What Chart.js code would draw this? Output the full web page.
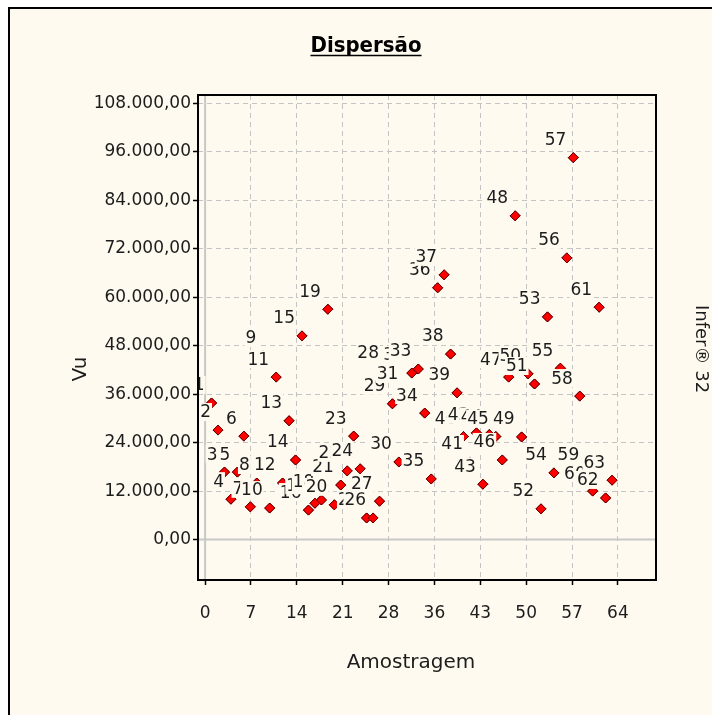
<!DOCTYPE html>
<html>
<head>
<meta charset="utf-8">
<script src="https://cdn.jsdelivr.net/npm/chart.js@4"></script>
<style>
  html, body { margin: 0; padding: 0; background: #fff; }
  canvas { display: block; }
</style>
</head>
<body>
<canvas id="chart" width="712" height="715"></canvas>
<script>
// amostras (x) e valores Vu (y)
const samples = [1, 2, 3, 4, 5, 6, 7, 8, 9, 10, 11, 12, 13, 14, 15, 16, 17, 18, 19, 20,
    21, 22, 23, 24, 25, 26, 27, 28, 29, 30, 31, 32, 33, 34, 35, 36, 37, 38, 39, 40,
    41, 42, 43, 44, 45, 46, 47, 48, 49, 50, 51, 52, 53, 54, 55, 56, 57, 58, 59, 60,
    61, 62, 63];
const vuValues = [33800, 27100, 16700, 10000, 16700, 25600, 8100, 14000, 45600, 7800,
    40200, 14000, 29400, 19700, 50400, 7300, 9000, 9800, 57000, 8600,
    13500, 17000, 25600, 17500, 5350, 5350, 9500, 41700, 33600, 19200,
    36500, 41200, 42200, 31300, 15000, 62300, 65500, 45900, 36300, 25500,
    19200, 26400, 13700, 26000, 25500, 19700, 40200, 80100, 25400, 41000,
    38500, 7600, 55100, 16500, 42400, 69700, 94500, 35500, 16700, 12000,
    57500, 10300, 14700];

const xTickValues = [0, 7.1, 14.2, 21.3, 28.4, 35.5, 42.6, 49.7, 56.8, 63.9];
const yTickValues = [0, 12000, 24000, 36000, 48000, 60000, 72000, 84000, 96000, 108000];

const CREAM = '#fefaef';
const TEXT = '#1c1c1c';
const FONT = '"DejaVu Sans", "Liberation Sans", sans-serif';

function fmtBR(v) {
    const s = Math.round(v).toString().replace(/\B(?=(\d{3})+(?!\d))/g, '.');
    return s + ',00';
}

const decor = {
    id: 'decor',
    beforeDraw(chart) {
        const ctx = chart.ctx;
        ctx.save();
        ctx.fillStyle = '#fff';
        ctx.fillRect(0, 0, chart.width, chart.height);
        ctx.fillStyle = CREAM;
        ctx.fillRect(9, 8, chart.width, chart.height);
        ctx.strokeStyle = '#000';
        ctx.lineWidth = 2;
        ctx.beginPath();
        ctx.moveTo(9, chart.height);
        ctx.lineTo(9, 8);
        ctx.lineTo(chart.width, 8);
        ctx.stroke();
        ctx.restore();
    },
    beforeDatasetsDraw(chart) {
        // linhas do zero
        const { ctx, chartArea: a, scales } = chart;
        const x0 = scales.x.getPixelForValue(0);
        const y0 = scales.y.getPixelForValue(0);
        ctx.save();
        ctx.strokeStyle = '#c8c8c8';
        ctx.lineWidth = 2;
        ctx.beginPath();
        ctx.moveTo(x0, a.top);
        ctx.lineTo(x0, a.bottom);
        ctx.moveTo(a.left, y0);
        ctx.lineTo(a.right, y0);
        ctx.stroke();
        ctx.restore();
    },
    afterDatasetsDraw(chart) {
        // ponto e rótulo em sequência, rótulos com fundo opaco
        const { ctx, chartArea: a } = chart;
        const meta = chart.getDatasetMeta(0);
        ctx.save();
        ctx.beginPath();
        ctx.rect(a.left, a.top, a.right - a.left, a.bottom - a.top);
        ctx.clip();
        ctx.font = '17px ' + FONT;
        ctx.textAlign = 'right';
        ctx.textBaseline = 'middle';
        meta.data.forEach((el, i) => {
            el.draw(ctx, a);
            const txt = String(samples[i]);
            const w = ctx.measureText(txt).width;
            const rx = el.x - 7;
            const cy = el.y - 18;
            ctx.fillStyle = CREAM;
            ctx.fillRect(rx - w - 1, cy - 9, w + 2, 18);
            ctx.fillStyle = TEXT;
            ctx.fillText(txt, rx, cy + 1);
        });
        ctx.restore();
    },
    afterDraw(chart) {
        const { ctx, chartArea: a } = chart;
        ctx.save();
        ctx.strokeStyle = '#000';
        ctx.lineWidth = 2;
        ctx.strokeRect(a.left, a.top, a.right - a.left, a.bottom - a.top);

        // título
        ctx.fillStyle = '#000';
        ctx.font = 'bold 22px "DejaVu Sans Condensed", ' + FONT;
        ctx.textAlign = 'center';
        ctx.textBaseline = 'alphabetic';
        const title = 'Dispersão';
        const tw = ctx.measureText(title).width;
        ctx.fillText(title, 366, 52);
        ctx.lineWidth = 1.5;
        ctx.beginPath();
        ctx.moveTo(366 - tw / 2, 55.5);
        ctx.lineTo(366 + tw / 2, 55.5);
        ctx.stroke();

        // títulos dos eixos
        ctx.fillStyle = TEXT;
        ctx.font = '20px ' + FONT;
        ctx.textBaseline = 'middle';
        ctx.fillText('Amostragem', 411, 663);

        ctx.save();
        ctx.translate(81, 369);
        ctx.rotate(-Math.PI / 2);
        ctx.fillText('Vu', 0, 0);
        ctx.restore();

        ctx.save();
        ctx.translate(701, 349);
        ctx.rotate(Math.PI / 2);
        ctx.font = '18px ' + FONT;
        ctx.fillText('Infer® 32', 0, 0);
        ctx.restore();
        ctx.restore();
    }
};

new Chart(document.getElementById('chart'), {
    type: 'scatter',
    data: {
        datasets: [{
            data: samples.map((s, i) => ({ x: s, y: vuValues[i] })),
            pointStyle: 'rectRot',
            pointRadius: 5,
            backgroundColor: '#ff0000',
            borderColor: '#6a0000',
            borderWidth: 1,
        }],
    },
    options: {
        responsive: false,
        animation: false,
        events: [],
        layout: { padding: { top: 95, right: 56, left: 0, bottom: 0 } },
        plugins: {
            legend: { display: false },
            tooltip: { enabled: false },
        },
        scales: {
            x: {
                type: 'linear',
                min: -1.1,
                max: 69.8,
                afterBuildTicks: s => { s.ticks = xTickValues.map(v => ({ value: v })); },
                afterFit: s => { s.height = 135; },
                grid: { color: '#c4c4c4', lineWidth: 1, tickLength: 5, tickColor: '#000', tickWidth: 1.5 },
                border: { display: false, dash: [5, 4] },
                ticks: {
                    color: TEXT,
                    font: { family: FONT, size: 17 },
                    padding: 18,
                    maxRotation: 0,
                    autoSkip: false,
                    callback: v => Math.round(v),
                },
            },
            y: {
                min: -10000,
                max: 110000,
                afterBuildTicks: s => { s.ticks = yTickValues.map(v => ({ value: v })); },
                afterFit: s => { s.width = 198; },
                grid: { color: '#c4c4c4', lineWidth: 1, tickLength: 5, tickColor: '#000', tickWidth: 1.5 },
                border: { display: false, dash: [5, 4] },
                ticks: {
                    color: TEXT,
                    font: { family: FONT, size: 17 },
                    padding: 2,
                    autoSkip: false,
                    callback: v => fmtBR(v),
                },
            },
        },
    },
    plugins: [decor],
});
</script>
</body>
</html>
